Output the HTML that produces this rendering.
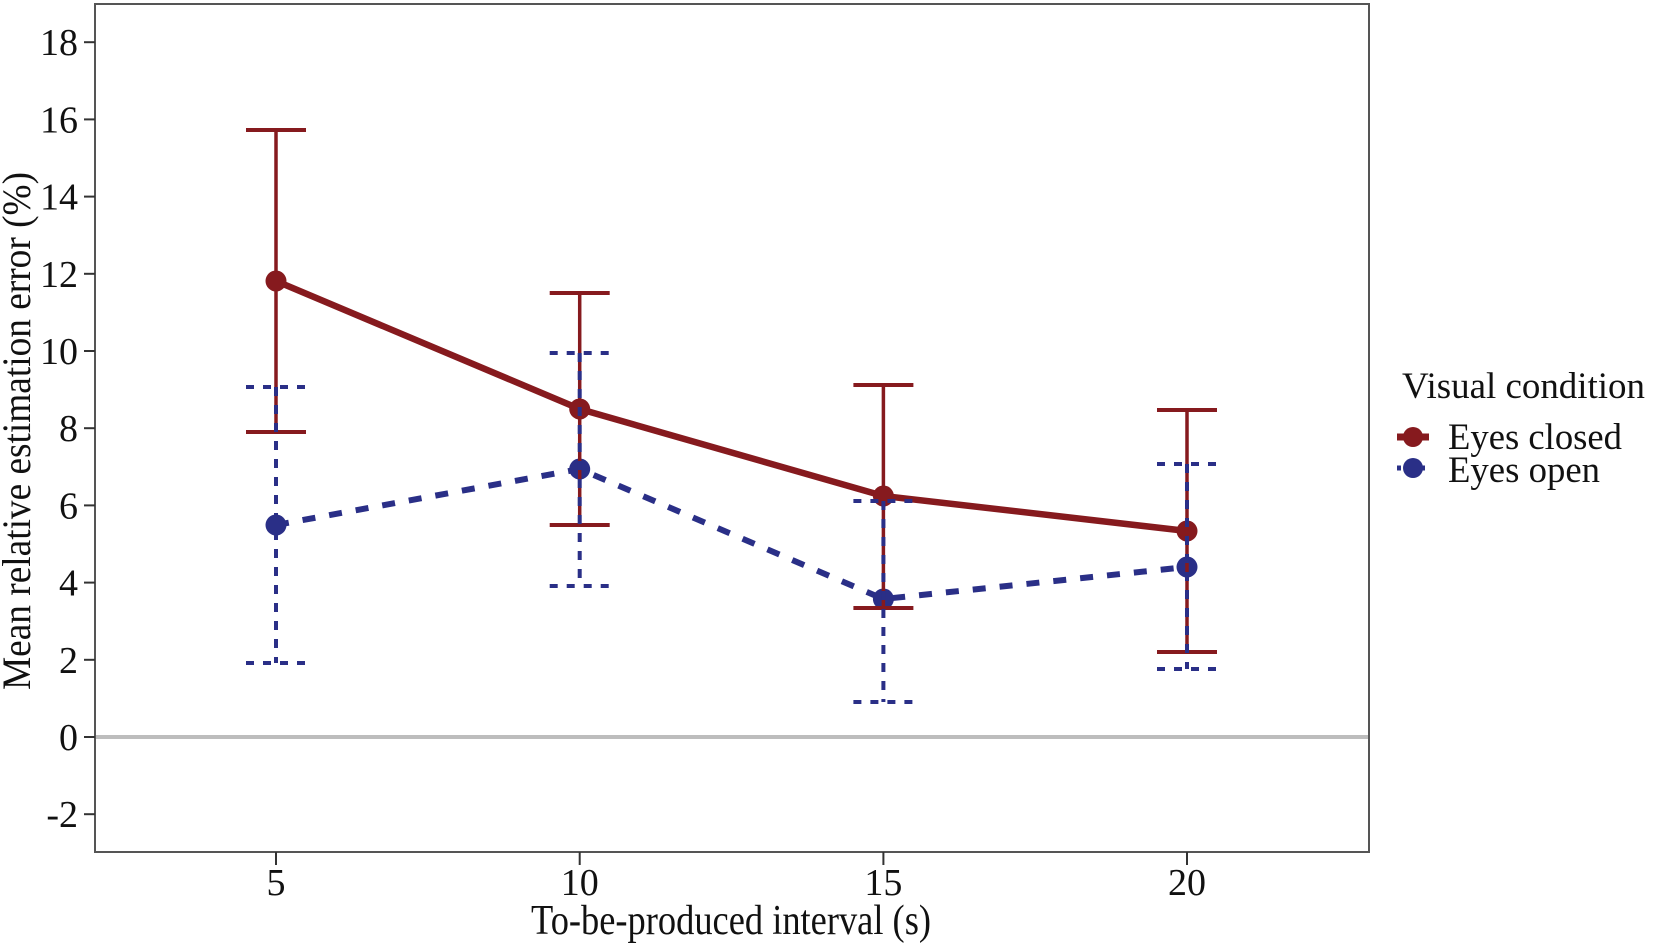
<!DOCTYPE html>
<html>
<head>
<meta charset="utf-8">
<style>
  html,body{margin:0;padding:0;background:#fff;}
  svg{display:block;}
  text{font-family:"Liberation Serif","Times New Roman",serif;fill:#111;}
</style>
</head>
<body>
<svg width="1654" height="947" viewBox="0 0 1654 947" xmlns="http://www.w3.org/2000/svg">
  <rect x="0" y="0" width="1654" height="947" fill="#fff"/>

  <!-- zero line -->
  <line x1="96" y1="737" x2="1368" y2="737" stroke="#bdbdbd" stroke-width="4"/>

  <!-- plot box -->
  <rect x="95" y="4" width="1274" height="848" fill="none" stroke="#555" stroke-width="2"/>

  <!-- y ticks -->
  <g stroke="#333" stroke-width="2">
    <line x1="84" y1="42.2" x2="95" y2="42.2"/>
    <line x1="84" y1="119.4" x2="95" y2="119.4"/>
    <line x1="84" y1="196.6" x2="95" y2="196.6"/>
    <line x1="84" y1="273.8" x2="95" y2="273.8"/>
    <line x1="84" y1="351" x2="95" y2="351"/>
    <line x1="84" y1="428.2" x2="95" y2="428.2"/>
    <line x1="84" y1="505.4" x2="95" y2="505.4"/>
    <line x1="84" y1="582.6" x2="95" y2="582.6"/>
    <line x1="84" y1="659.8" x2="95" y2="659.8"/>
    <line x1="84" y1="737" x2="95" y2="737"/>
    <line x1="84" y1="814.2" x2="95" y2="814.2"/>
  </g>
  <g font-size="38" text-anchor="end">
    <text x="78" y="55.2">18</text>
    <text x="78" y="132.4">16</text>
    <text x="78" y="209.6">14</text>
    <text x="78" y="286.8">12</text>
    <text x="78" y="364">10</text>
    <text x="78" y="441.2">8</text>
    <text x="78" y="518.4">6</text>
    <text x="78" y="595.6">4</text>
    <text x="78" y="672.8">2</text>
    <text x="78" y="750">0</text>
    <text x="78" y="827.2">-2</text>
  </g>

  <!-- x ticks -->
  <g stroke="#333" stroke-width="2">
    <line x1="276" y1="852" x2="276" y2="865"/>
    <line x1="579.7" y1="852" x2="579.7" y2="865"/>
    <line x1="883.4" y1="852" x2="883.4" y2="865"/>
    <line x1="1187" y1="852" x2="1187" y2="865"/>
  </g>
  <g font-size="38" text-anchor="middle">
    <text x="276" y="895">5</text>
    <text x="579.7" y="895">10</text>
    <text x="883.4" y="895">15</text>
    <text x="1187" y="895">20</text>
  </g>

  <!-- axis titles -->
  <text x="531" y="934" font-size="42" textLength="400" lengthAdjust="spacingAndGlyphs">To-be-produced interval (s)</text>
  <text transform="translate(30,690) rotate(-90)" x="0" y="0" font-size="40" textLength="518" lengthAdjust="spacingAndGlyphs">Mean relative estimation error (%)</text>

  <!-- series lines -->
  <polyline points="276,525 579.7,469 883.4,599 1187,567" fill="none" stroke="#2a2f87" stroke-width="6" stroke-dasharray="13 14"/>
  <polyline points="276,281 579.7,409 883.4,496 1187,531" fill="none" stroke="#861a1e" stroke-width="6.5" stroke-linejoin="round"/>

  <!-- markers -->
  <g fill="#2a2f87">
    <circle cx="276" cy="525" r="10.5"/>
    <circle cx="579.7" cy="469" r="10.5"/>
    <circle cx="883.4" cy="599" r="10.5"/>
    <circle cx="1187" cy="567" r="10.5"/>
  </g>
  <g fill="#861a1e">
    <circle cx="276" cy="281" r="10.5"/>
    <circle cx="579.7" cy="409" r="10.5"/>
    <circle cx="883.4" cy="496" r="10.5"/>
    <circle cx="1187" cy="531" r="10.5"/>
  </g>

  <!-- red error bars -->
  <g stroke="#861a1e" fill="none">
    <g stroke-width="3.5">
      <line x1="276" y1="130" x2="276" y2="432"/>
      <line x1="579.7" y1="293" x2="579.7" y2="525"/>
      <line x1="883.4" y1="385" x2="883.4" y2="608"/>
      <line x1="1187" y1="410" x2="1187" y2="652"/>
    </g>
    <g stroke-width="4">
      <line x1="246" y1="130" x2="306" y2="130"/>
      <line x1="246" y1="432" x2="306" y2="432"/>
      <line x1="549.7" y1="293" x2="609.7" y2="293"/>
      <line x1="549.7" y1="525" x2="609.7" y2="525"/>
      <line x1="853.4" y1="385" x2="913.4" y2="385"/>
      <line x1="853.4" y1="608" x2="913.4" y2="608"/>
      <line x1="1157" y1="410" x2="1217" y2="410"/>
      <line x1="1157" y1="652" x2="1217" y2="652"/>
    </g>
  </g>

  <!-- blue error bars -->
  <g stroke="#2a2f87" fill="none">
    <g stroke-width="4" stroke-dasharray="9 9">
      <line x1="276" y1="387" x2="276" y2="663"/>
      <line x1="579.7" y1="353" x2="579.7" y2="586"/>
      <line x1="883.4" y1="501" x2="883.4" y2="702"/>
      <line x1="1187" y1="464" x2="1187" y2="669"/>
    </g>
    <g stroke-width="4" stroke-dasharray="8 9">
      <line x1="246" y1="387" x2="306" y2="387"/>
      <line x1="246" y1="663" x2="306" y2="663"/>
      <line x1="549.7" y1="353" x2="609.7" y2="353"/>
      <line x1="549.7" y1="586" x2="609.7" y2="586"/>
      <line x1="853.4" y1="501" x2="913.4" y2="501"/>
      <line x1="853.4" y1="702" x2="913.4" y2="702"/>
      <line x1="1157" y1="464" x2="1217" y2="464"/>
      <line x1="1157" y1="669" x2="1217" y2="669"/>
    </g>
  </g>

  <!-- legend -->
  <text x="1402" y="398" font-size="37" textLength="243" lengthAdjust="spacingAndGlyphs">Visual condition</text>
  <line x1="1397" y1="437" x2="1429" y2="437" stroke="#861a1e" stroke-width="7"/>
  <circle cx="1413" cy="437" r="10" fill="#861a1e"/>
  <line x1="1397" y1="468" x2="1429" y2="468" stroke="#2a2f87" stroke-width="5" stroke-dasharray="4 4"/>
  <circle cx="1413" cy="468" r="10" fill="#2a2f87"/>
  <text x="1448" y="449" font-size="37" textLength="174" lengthAdjust="spacingAndGlyphs">Eyes closed</text>
  <text x="1448" y="482" font-size="37" textLength="152" lengthAdjust="spacingAndGlyphs">Eyes open</text>
</svg>
</body>
</html>
